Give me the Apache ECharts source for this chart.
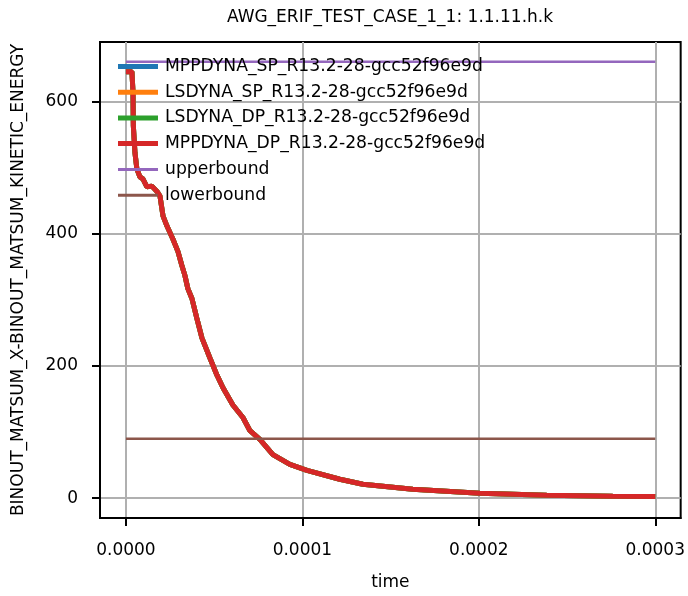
<!DOCTYPE html>
<html>
<head>
<meta charset="utf-8">
<style>
  html, body { margin: 0; padding: 0; background: #fff; }
  #chart { width: 688px; height: 596px; }
</style>
<script src="https://cdn.jsdelivr.net/npm/echarts@6/dist/echarts.min.js"></script>
</head>
<body>
<div id="chart"></div>
<script>
// time (s) and kinetic energy
var timeVals = [0, 0.0000034, 0.0000040, 0.0000042, 0.0000051, 0.0000062, 0.0000079, 0.0000096,
  0.0000119, 0.0000147, 0.0000176, 0.0000193, 0.0000210, 0.0000232, 0.0000266, 0.0000295,
  0.0000317, 0.0000334, 0.0000351, 0.0000374, 0.0000402, 0.0000431, 0.0000476, 0.0000516,
  0.0000550, 0.0000606, 0.0000663, 0.0000703, 0.0000759, 0.0000833, 0.0000929, 0.0001026,
  0.0001212, 0.0001343, 0.0001626, 0.0002006, 0.0002385, 0.0002759, 0.0003];
var energyVals = [645, 645, 614, 563, 523, 498, 486, 483,
  471, 472, 464, 457, 427, 412, 392, 373,
  352, 337, 317, 302, 272, 242, 212, 186,
  167, 141, 122, 102, 89, 66, 51, 42,
  28.6, 21, 13.5, 7.5, 4.5, 3, 2.5];

var runNames = ['MPPDYNA_SP_R13.2-28-gcc52f96e9d', 'LSDYNA_SP_R13.2-28-gcc52f96e9d',
  'LSDYNA_DP_R13.2-28-gcc52f96e9d', 'MPPDYNA_DP_R13.2-28-gcc52f96e9d'];
var runColors = ['#1f77b4', '#ff7f0e', '#2ca02c', '#d62728'];

var boundTime = [0, 0.0003];
var upperVals = [660, 660];
var lowerVals = [90, 90];

var xTicks = [0, 0.0001, 0.0002, 0.0003];
var yTicks = [0, 200, 400, 600];

var curve = timeVals.map(function (t, i) { return [t, energyVals[i]]; });

var series = runNames.map(function (name, i) {
  return {
    name: name,
    type: 'line',
    data: curve,
    showSymbol: false,
    lineStyle: { width: 5, color: runColors[i] },
    itemStyle: { color: runColors[i] }
  };
});
series.push({
  name: 'upperbound', type: 'line', showSymbol: false,
  data: boundTime.map(function (t, i) { return [t, upperVals[i]]; }),
  lineStyle: { width: 2.5, color: '#9467bd' }, itemStyle: { color: '#9467bd' }
});
series.push({
  name: 'lowerbound', type: 'line', showSymbol: false,
  data: boundTime.map(function (t, i) { return [t, lowerVals[i]]; }),
  lineStyle: { width: 2.5, color: '#8c564b' }, itemStyle: { color: '#8c564b' }
});

var font = 'DejaVu Sans';
var legendText = { fontFamily: font, fontSize: 17.2, color: '#000', lineHeight: 18, padding: [0, 0, 0, 2] };

var myChart = echarts.init(document.getElementById('chart'));
myChart.setOption({
  animation: false,
  title: {
    text: 'AWG_ERIF_TEST_CASE_1_1: 1.1.11.h.k',
    left: 385, top: 4, textAlign: 'center',
    textStyle: { fontFamily: font, fontSize: 17, fontWeight: 'normal', color: '#000' }
  },
  legend: [{
    data: runNames, orient: 'vertical', left: 113, top: 52.5,
    icon: 'rect', itemWidth: 40, itemHeight: 5, itemGap: 7.7,
    selectedMode: false, textStyle: legendText
  }, {
    data: ['upperbound', 'lowerbound'], orient: 'vertical', left: 113, top: 155.5,
    icon: 'rect', itemWidth: 40, itemHeight: 3, itemGap: 7.7,
    selectedMode: false, textStyle: legendText
  }],
  grid: {
    left: 100, right: 7, top: 42, bottom: 75,
    show: true, borderColor: '#000', borderWidth: 2
  },
  xAxis: {
    type: 'value', min: -0.0000147, max: 0.0003144,
    name: 'time', nameLocation: 'middle', nameGap: 56,
    nameTextStyle: { fontFamily: font, fontSize: 17, color: '#000' },
    axisLine: { onZero: false, lineStyle: { color: '#000', width: 2 } },
    axisTick: { customValues: xTicks, length: 8, lineStyle: { color: '#000', width: 2 } },
    axisLabel: {
      customValues: xTicks, margin: 24, fontFamily: font, fontSize: 17, color: '#000',
      formatter: function (v) { return v.toFixed(4); }
    },
    splitLine: { show: true, lineStyle: { color: '#b0b0b0', width: 2 } }
  },
  yAxis: {
    type: 'value', min: -30, max: 690,
    name: 'BINOUT_MATSUM_X-BINOUT_MATSUM_KINETIC_ENERGY', nameLocation: 'middle', nameGap: 73,
    nameTextStyle: { fontFamily: font, fontSize: 17, color: '#000' },
    axisLine: { onZero: false, lineStyle: { color: '#000', width: 2 } },
    axisTick: { customValues: yTicks, length: 8, lineStyle: { color: '#000', width: 2 } },
    axisLabel: { customValues: yTicks, margin: 22, fontFamily: font, fontSize: 17, color: '#000' },
    splitLine: { show: true, lineStyle: { color: '#b0b0b0', width: 2 } }
  },
  series: series
});
window.onresize = myChart.resize;
</script>
</body>
</html>
